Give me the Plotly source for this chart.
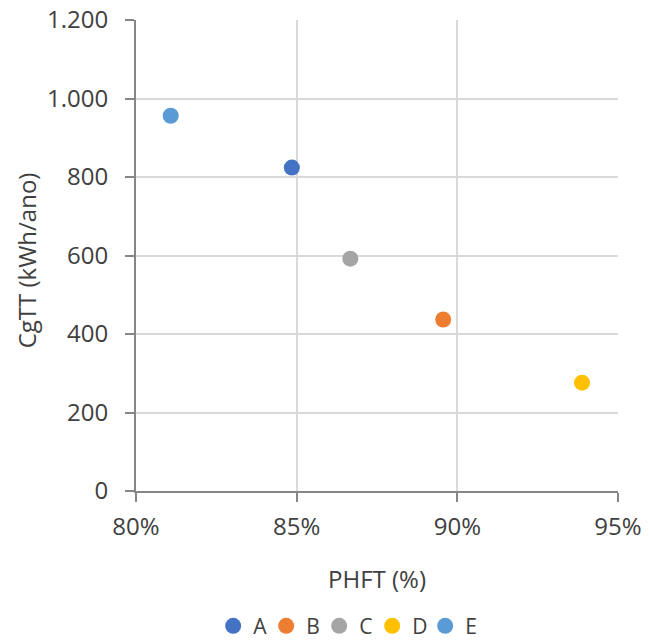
import plotly.graph_objects as go

names = ["A", "B", "C", "D", "E"]
phft = [0.8485, 0.8956, 0.8667, 0.9388, 0.8108]
cgtt = [824, 437, 592, 276, 956]
colors = ["#4472C4", "#ED7D31", "#A5A5A5", "#FFC000", "#5B9BD5"]

x_ticks = [0.80, 0.85, 0.90, 0.95]
y_ticks = [0, 200, 400, 600, 800, 1000, 1200]

fig = go.Figure()
for n, x, y, c in zip(names, phft, cgtt, colors):
    fig.add_trace(go.Scatter(x=[x], y=[y], mode="markers", name=n,
                             marker=dict(color=c, size=16, line=dict(width=0))))

font = "Open Sans, Liberation Sans, sans-serif"
txt = "#404040"
fig.update_layout(
    width=649, height=644,
    margin=dict(l=136, r=31, t=20, b=153, autoexpand=False),
    paper_bgcolor="white", plot_bgcolor="white",
    separators=",.",
    font=dict(family=font, size=24, color=txt),
    showlegend=True,
    legend=dict(orientation="h", x=0.435, xanchor="center", y=-0.287, yanchor="middle",
                font=dict(size=21, color=txt), itemwidth=30, tracegroupgap=0,
                entrywidth=8, entrywidthmode="pixels"),
    annotations=[
        dict(text="PHFT (%)", xref="paper", yref="paper", x=0.5, y=-0.185,
             xanchor="center", yanchor="middle", showarrow=False,
             font=dict(size=24, color=txt)),
        dict(text="CgTT (kWh/ano)", xref="paper", yref="paper", x=-0.228, y=0.49,
             xanchor="center", yanchor="middle", showarrow=False, textangle=-90,
             font=dict(size=24, color=txt)),
    ],
)
fig.update_xaxes(range=[0.80, 0.95], tickvals=x_ticks, tickformat=".0%",
                 showgrid=True, gridcolor="#D9D9D9", gridwidth=2,
                 showline=True, linecolor="#868686", linewidth=2,
                 ticks="outside", ticklen=9, tickcolor="#868686", tickwidth=2,
                 zeroline=False, automargin=False, ticklabelstandoff=4)
fig.update_yaxes(range=[0, 1200], tickvals=y_ticks, tickformat=",d",
                 showgrid=True, gridcolor="#D9D9D9", gridwidth=2,
                 showline=True, linecolor="#868686", linewidth=2,
                 ticks="outside", ticklen=9, tickcolor="#868686", tickwidth=2,
                 zeroline=False, automargin=False, ticklabelstandoff=12)

fig.write_html("out.html")
